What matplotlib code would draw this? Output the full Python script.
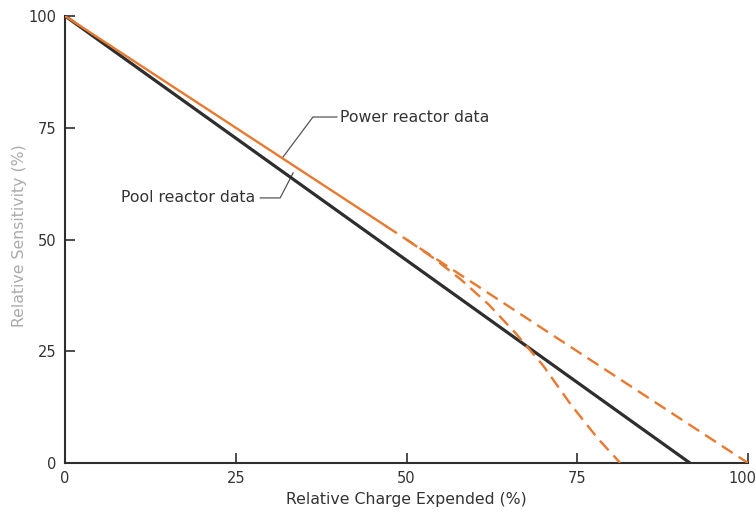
import matplotlib.pyplot as plt
import matplotlib.transforms as mtransforms

# pool reactor (straight, solid black)
pool_x = [0, 91.5]
pool_y = [100, 0]

# power reactor: measured part (solid) and extrapolations (dashed)
power_x = [0, 47]
power_y = [100, 53]
power_lin_x = [47, 100]
power_lin_y = [53, 0]
power_curve_x = [50, 54, 58, 62, 66, 70, 74, 78, 81.3]
power_curve_y = [50, 45.8, 41, 35.5, 29, 21.8, 13.2, 5.5, 0]

ticks = [0, 25, 50, 75, 100]

orange = '#e8792f'
dark = '#2e2e2e'
txt = '#333333'

fig = plt.figure(figsize=(7.56, 5.15), dpi=100)
ax = fig.add_axes([65 / 756, 1 - 463 / 515, 683 / 756, 447 / 515])

ax.plot(pool_x, pool_y, color=dark, lw=2.3, solid_capstyle='butt', zorder=3)
ax.plot(power_x, power_y, color=orange, lw=1.7, zorder=4)
ax.plot(power_lin_x, power_lin_y, color=orange, lw=1.7, dashes=(5.5, 3), zorder=4)
ax.plot(power_curve_x, power_curve_y, color=orange, lw=1.7, dashes=(5.5, 3), zorder=4)

# labels with elbow leaders
ax.plot([39.8, 36.3, 31.8], [77.4, 77.4, 68.2], color='#555555', lw=0.9)
ax.text(40.2, 77.4, 'Power reactor data', fontsize=11.3, color=txt, va='center', ha='left')
ax.plot([28.6, 31.5, 33.4], [59.3, 59.3, 64.9], color='#555555', lw=0.9)
ax.text(27.9, 59.3, 'Pool reactor data', fontsize=11.3, color=txt, va='center', ha='right')

ax.set_xlim(0, 100)
ax.set_ylim(0, 100)
ax.set_xticks(ticks)
ax.set_yticks(ticks)
ax.tick_params(direction='in', length=7, width=1.2, colors=dark, labelsize=10.5,
               labelcolor=txt, pad=6)
for s in ['top', 'right']:
    ax.spines[s].set_visible(False)
for s in ['left', 'bottom']:
    ax.spines[s].set_linewidth(1.5)
    ax.spines[s].set_color(dark)

# faint ticks at 25 and 50 on the y axis
for t in ax.yaxis.get_major_ticks()[1:3]:
    t.tick1line.set_color('#c8c8c8')

# keep the last x label inside the figure
fig.canvas.draw()
last = ax.get_xticklabels()[-1]
last.set_transform(last.get_transform() +
                   mtransforms.ScaledTranslation(-6 / 100, 0, fig.dpi_scale_trans))

ax.set_xlabel('Relative Charge Expended (%)', fontsize=11.3, color=txt, labelpad=4)
ax.set_ylabel('Relative Sensitivity (%)', fontsize=11.3, color='#ababab')
ax.yaxis.label.set_verticalalignment('center')
ax.yaxis.set_label_coords(-0.066, 0.508)

fig.savefig('out.png', dpi=100)
